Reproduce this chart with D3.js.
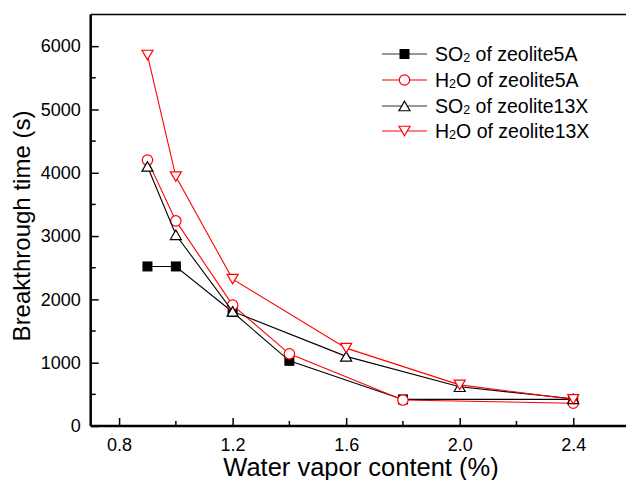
<!DOCTYPE html>
<html>
<head>
<meta charset="utf-8">
<script src="https://cdn.jsdelivr.net/npm/d3@7"></script>
<style>
  html, body { margin: 0; padding: 0; background: #fff; }
  svg { display: block; font-family: "Liberation Sans", Arial, sans-serif; }
</style>
</head>
<body>
<svg id="chart" width="626" height="480"></svg>
<script>
// Water vapour content (%) against breakthrough time (s)
const xSO2_5A = [0.9, 1.0, 1.2, 1.4, 1.8, 2.4];
const ySO2_5A = [2520, 2520, 1800, 1030, 420, 420];

const xH2O_5A = [0.9, 1.0, 1.2, 1.4, 1.8, 2.4];
const yH2O_5A = [4200, 3240, 1910, 1140, 410, 360];

const xSO2_13X = [0.9, 1.0, 1.2, 1.6, 2.0, 2.4];
const ySO2_13X = [4100, 3020, 1810, 1100, 620, 430];

const xH2O_13X = [0.9, 1.0, 1.2, 1.6, 2.0, 2.4];
const yH2O_13X = [5860, 3940, 2320, 1230, 650, 420];

const seriesNames = ["SO2 of zeolite5A", "H2O of zeolite5A", "SO2 of zeolite13X", "H2O of zeolite13X"];

const xMajorTicks = [0.8, 1.2, 1.6, 2.0, 2.4];
const xMinorTicks = [1.0, 1.4, 1.8, 2.2];
const yMajorTicks = [0, 1000, 2000, 3000, 4000, 5000, 6000];
const yMinorTicks = [500, 1500, 2500, 3500, 4500, 5500];

const xTitle = "Water vapor content (%)";
const yTitle = "Breakthrough time (s)";

const series = [
  { name: seriesNames[0], xs: xSO2_5A, ys: ySO2_5A, color: "#000", marker: "square" },
  { name: seriesNames[1], xs: xH2O_5A, ys: yH2O_5A, color: "#ff0000", marker: "circle" },
  { name: seriesNames[2], xs: xSO2_13X, ys: ySO2_13X, color: "#000", marker: "up" },
  { name: seriesNames[3], xs: xH2O_13X, ys: yH2O_13X, color: "#ff0000", marker: "down" }
];

const svg = d3.select("#chart");
const mLeft = 90.7, mRight = 630, mTop = 14.5, mBottom = 426;

const x = d3.scaleLinear().domain([0.7, 2.6]).range([mLeft, mRight]);
const y = d3.scaleLinear().domain([0, 6500]).range([mBottom, mTop]);

// frame: top border
svg.append("line").attr("x1", mLeft).attr("x2", mRight).attr("y1", mTop).attr("y2", mTop)
  .attr("stroke", "#000").attr("stroke-width", 1.5);

// y axis
const yAxis = svg.append("g").attr("transform", `translate(${mLeft},0)`);
yAxis.call(d3.axisLeft(y).tickValues(yMajorTicks).tickSize(-8).tickPadding(10).tickFormat(d3.format("d")));
yAxis.append("g").selectAll("line").data(yMinorTicks).join("line")
  .attr("x1", 0).attr("x2", 5).attr("y1", d => y(d)).attr("y2", d => y(d))
  .attr("stroke", "#000").attr("stroke-width", 1.5);

// x axis
const xAxis = svg.append("g").attr("transform", `translate(0,${mBottom})`);
xAxis.call(d3.axisBottom(x).tickValues(xMajorTicks).tickSize(-8).tickPadding(12).tickFormat(d3.format(".1f")));
xAxis.append("g").selectAll("line").data(xMinorTicks).join("line")
  .attr("x1", d => x(d)).attr("x2", d => x(d)).attr("y1", 0).attr("y2", -5)
  .attr("stroke", "#000").attr("stroke-width", 1.5);

[yAxis, xAxis].forEach(g => {
  g.select(".domain").attr("stroke", "#000").attr("stroke-width", 2.5);
  g.selectAll(".tick line").attr("stroke", "#000").attr("stroke-width", 1.5);
  g.selectAll(".tick text").attr("font-size", 18).attr("fill", "#000")
    .attr("font-family", "'Liberation Sans', Arial, sans-serif");
});
yAxis.select(".domain").attr("d", `M0,${mBottom}V${mTop}`);
xAxis.select(".domain").attr("d", `M${mLeft},0H${mRight}`);

// axis titles
svg.append("text").attr("x", 361).attr("y", 476).attr("text-anchor", "middle")
  .attr("font-size", 25.5).attr("fill", "#000").text(xTitle);
svg.append("text").attr("transform", `translate(30,226) rotate(-90)`).attr("text-anchor", "middle")
  .attr("font-size", 24).attr("fill", "#000").text(yTitle);

// markers
function drawMarker(g, type, color, cx, cy) {
  if (type === "square") {
    g.append("rect").attr("x", cx - 4.5).attr("y", cy - 4.5).attr("width", 9).attr("height", 9)
      .attr("fill", "#000").attr("stroke", "#000").attr("stroke-width", 1);
  } else if (type === "circle") {
    g.append("circle").attr("cx", cx).attr("cy", cy).attr("r", 5.2)
      .attr("fill", "#fff").attr("stroke", color).attr("stroke-width", 1.2);
  } else if (type === "up") {
    const h = 9.5, w = 11;
    g.append("path").attr("d", `M${cx},${cy - h / 2}L${cx + w / 2},${cy + h / 2}L${cx - w / 2},${cy + h / 2}Z`)
      .attr("fill", "#fff").attr("stroke", color).attr("stroke-width", 1.2);
  } else {
    const h = 9.5, w = 11;
    g.append("path").attr("d", `M${cx},${cy + h / 2}L${cx + w / 2},${cy - h / 2}L${cx - w / 2},${cy - h / 2}Z`)
      .attr("fill", "#fff").attr("stroke", color).attr("stroke-width", 1.2);
  }
}

const line = d3.line().x(d => x(d[0])).y(d => y(d[1]));
const plot = svg.append("g");
series.forEach(s => {
  const pts = s.xs.map((v, i) => [v, s.ys[i]]);
  const g = plot.append("g");
  g.append("path").attr("d", line(pts)).attr("fill", "none")
    .attr("stroke", s.color).attr("stroke-width", 1.1);
  pts.forEach(p => drawMarker(g, s.marker, s.color, x(p[0]), y(p[1])));
});

// legend
const legend = svg.append("g");
const rowY = [54, 80, 106, 131];
series.forEach((s, i) => {
  const ly = rowY[i];
  legend.append("line").attr("x1", 382).attr("x2", 427).attr("y1", ly).attr("y2", ly)
    .attr("stroke", s.color === "#000" ? "#333" : s.color).attr("stroke-width", 1.1);
  drawMarker(legend, s.marker, s.color, 404.5, ly);
  const parts = s.name.split("2");
  const t = legend.append("text").attr("x", 435).attr("y", ly + 7).attr("font-size", 19.5).attr("fill", "#000");
  t.append("tspan").text(parts[0]);
  t.append("tspan").attr("font-size", 12.5).attr("dy", 1).text("2");
  t.append("tspan").attr("dy", -1).text(parts[1]);
});
</script>
</body>
</html>
